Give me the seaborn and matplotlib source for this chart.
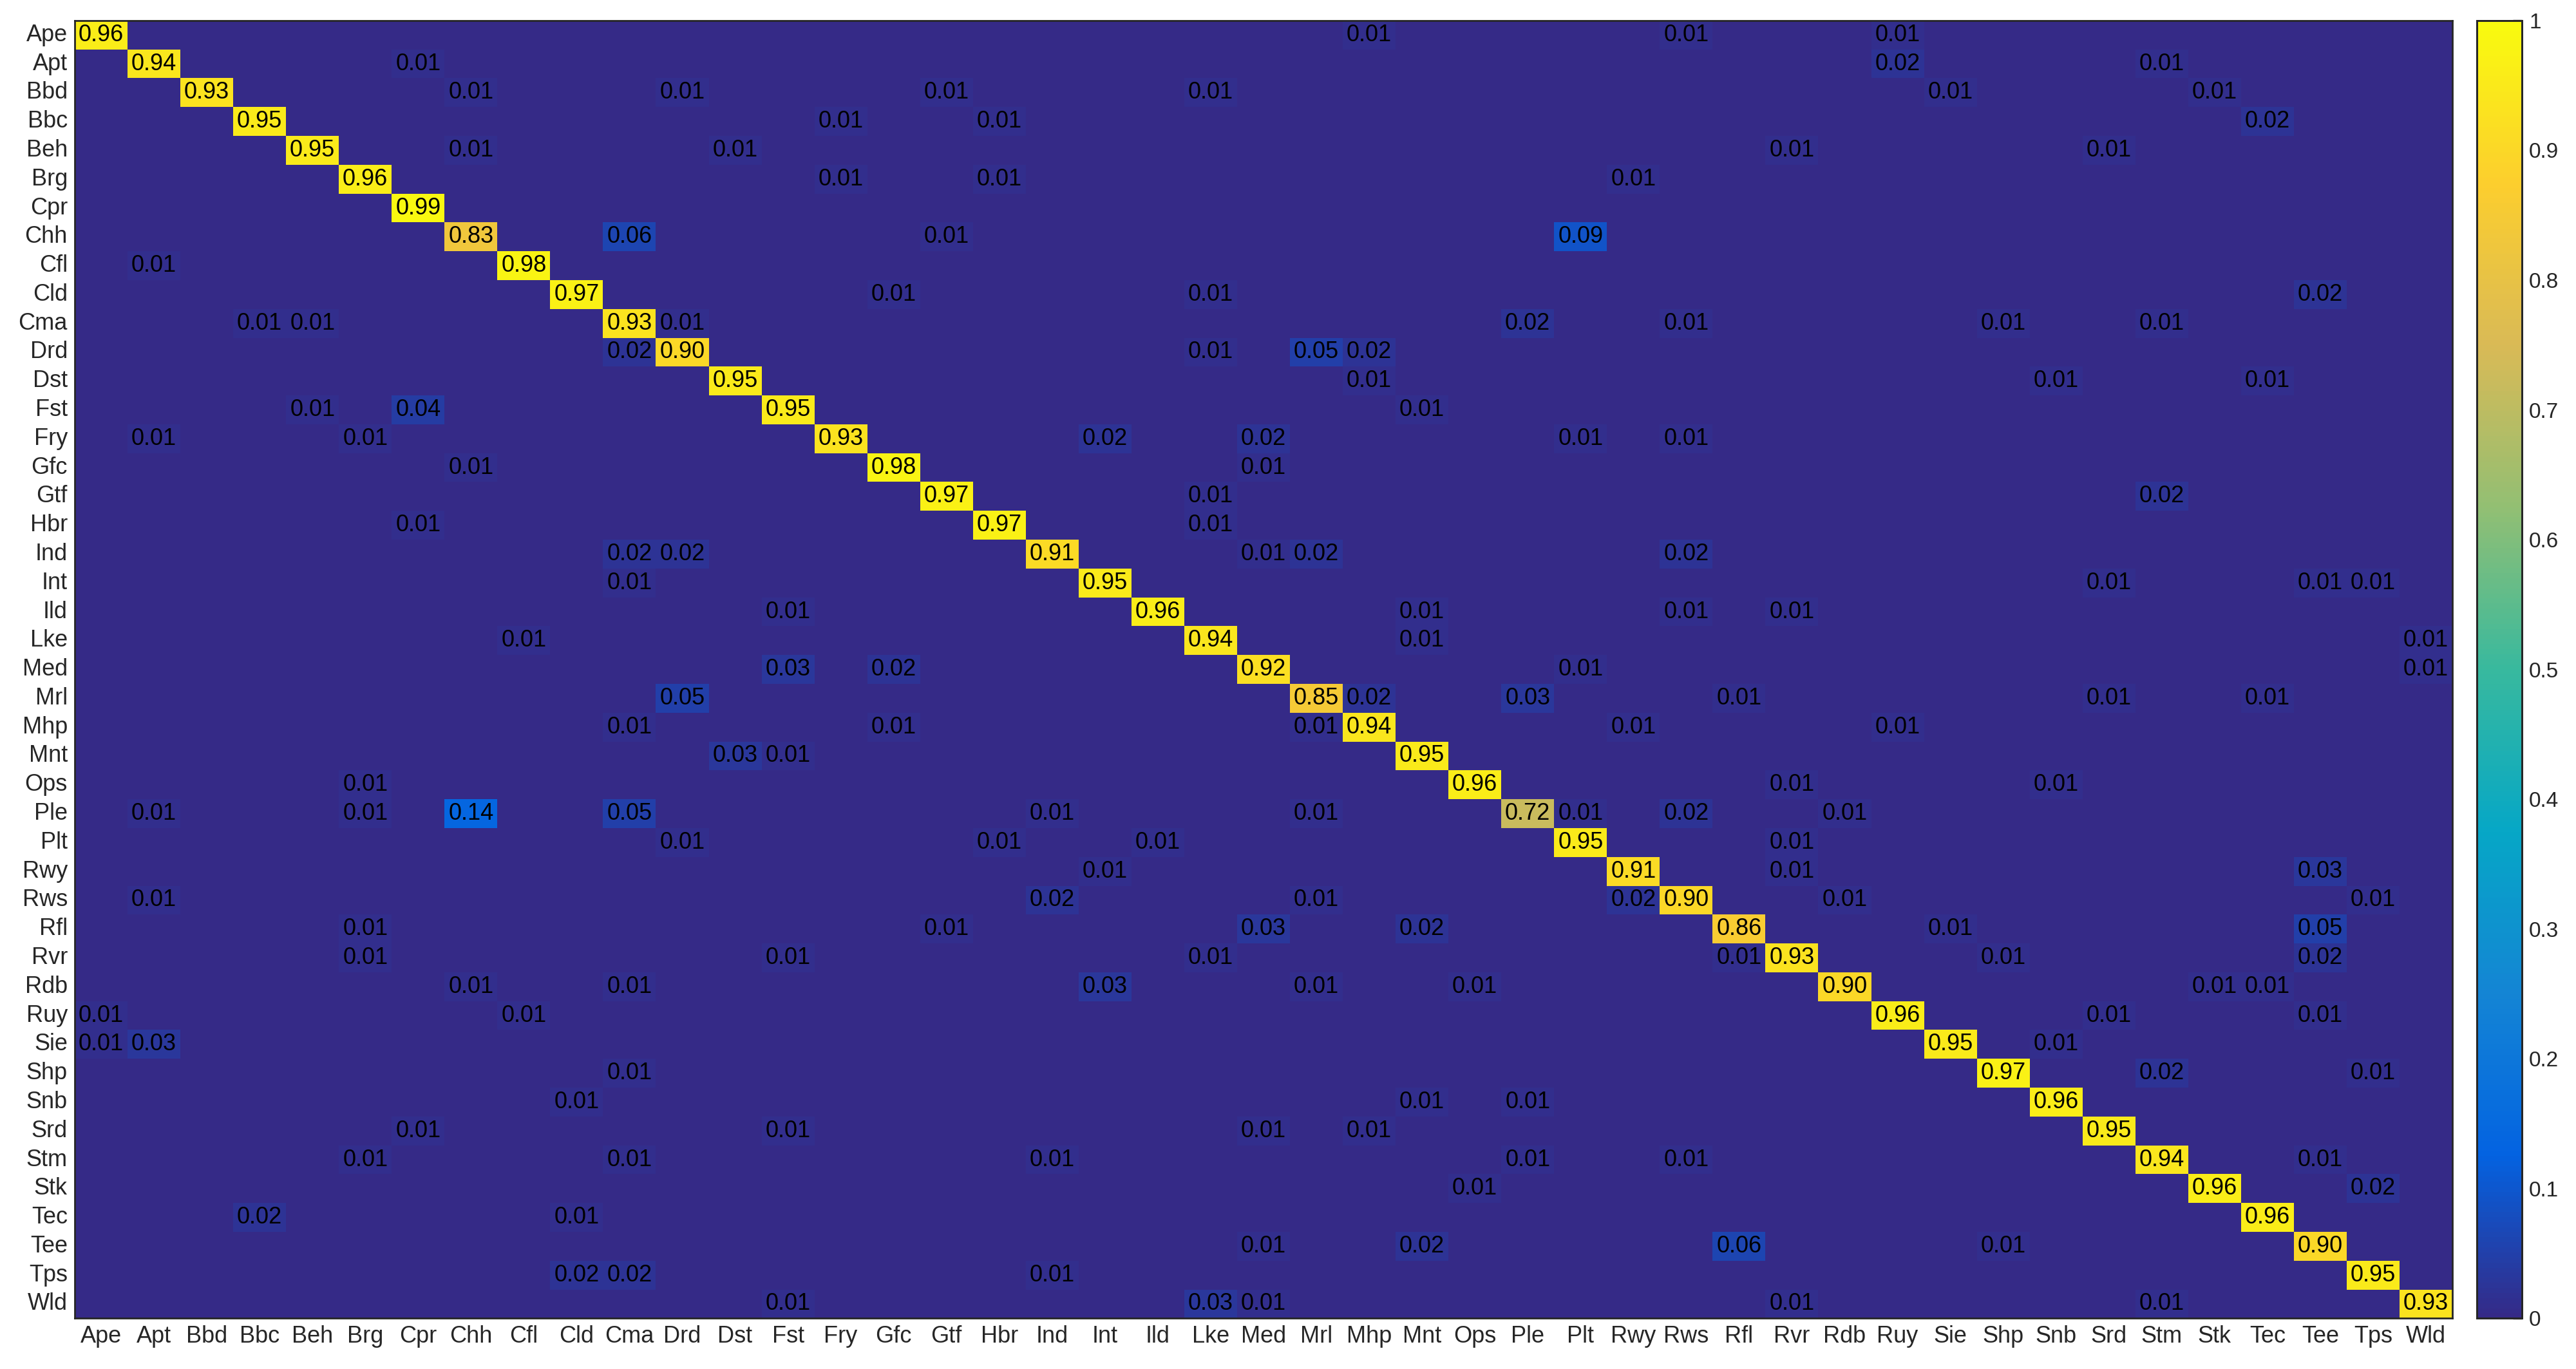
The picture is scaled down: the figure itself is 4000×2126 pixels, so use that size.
import numpy as np
import pandas as pd
import matplotlib
matplotlib.use("Agg")
import matplotlib.pyplot as plt
import seaborn as sns
from matplotlib.colors import LinearSegmentedColormap

# Class labels (rows = true, columns = predicted)
classes = ["Ape", "Apt", "Bbd", "Bbc", "Beh", "Brg", "Cpr", "Chh", "Cfl", "Cld",
           "Cma", "Drd", "Dst", "Fst", "Fry", "Gfc", "Gtf", "Hbr", "Ind", "Int",
           "Ild", "Lke", "Med", "Mrl", "Mhp", "Mnt", "Ops", "Ple", "Plt", "Rwy",
           "Rws", "Rfl", "Rvr", "Rdb", "Ruy", "Sie", "Shp", "Snb", "Srd", "Stm",
           "Stk", "Tec", "Tee", "Tps", "Wld"]

# Diagonal (per-class accuracy)
diag = [0.96, 0.94, 0.93, 0.95, 0.95, 0.96, 0.99, 0.83, 0.98, 0.97,
        0.93, 0.90, 0.95, 0.95, 0.93, 0.98, 0.97, 0.97, 0.91, 0.95,
        0.96, 0.94, 0.92, 0.85, 0.94, 0.95, 0.96, 0.72, 0.95, 0.91,
        0.90, 0.86, 0.93, 0.90, 0.96, 0.95, 0.97, 0.96, 0.95, 0.94,
        0.96, 0.96, 0.90, 0.95, 0.93]

# Off-diagonal confusions: true class -> {predicted class: rate}
off_diag = {
    "Ape": {"Mhp": 0.01, "Rws": 0.01, "Ruy": 0.01},
    "Apt": {"Cpr": 0.01, "Ruy": 0.02, "Stm": 0.01},
    "Bbd": {"Chh": 0.01, "Drd": 0.01, "Gtf": 0.01, "Lke": 0.01, "Sie": 0.01, "Stk": 0.01},
    "Bbc": {"Fry": 0.01, "Hbr": 0.01, "Tec": 0.02},
    "Beh": {"Chh": 0.01, "Dst": 0.01, "Rvr": 0.01, "Srd": 0.01},
    "Brg": {"Fry": 0.01, "Hbr": 0.01, "Rwy": 0.01},
    "Chh": {"Cma": 0.06, "Gtf": 0.01, "Plt": 0.09},
    "Cfl": {"Apt": 0.01},
    "Cld": {"Gfc": 0.01, "Lke": 0.01, "Tee": 0.02},
    "Cma": {"Bbc": 0.01, "Beh": 0.01, "Drd": 0.01, "Ple": 0.02, "Rws": 0.01, "Shp": 0.01, "Stm": 0.01},
    "Drd": {"Cma": 0.02, "Lke": 0.01, "Mrl": 0.05, "Mhp": 0.02},
    "Dst": {"Mhp": 0.01, "Snb": 0.01, "Tec": 0.01},
    "Fst": {"Beh": 0.01, "Cpr": 0.04, "Mnt": 0.01},
    "Fry": {"Apt": 0.01, "Brg": 0.01, "Int": 0.02, "Med": 0.02, "Plt": 0.01, "Rws": 0.01},
    "Gfc": {"Chh": 0.01, "Med": 0.01},
    "Gtf": {"Lke": 0.01, "Stm": 0.02},
    "Hbr": {"Cpr": 0.01, "Lke": 0.01},
    "Ind": {"Cma": 0.02, "Drd": 0.02, "Med": 0.01, "Mrl": 0.02, "Rws": 0.02},
    "Int": {"Cma": 0.01, "Srd": 0.01, "Tee": 0.01, "Tps": 0.01},
    "Ild": {"Fst": 0.01, "Mnt": 0.01, "Rws": 0.01, "Rvr": 0.01},
    "Lke": {"Cfl": 0.01, "Mnt": 0.01, "Wld": 0.01},
    "Med": {"Fst": 0.03, "Gfc": 0.02, "Plt": 0.01, "Wld": 0.01},
    "Mrl": {"Drd": 0.05, "Mhp": 0.02, "Ple": 0.03, "Rfl": 0.01, "Srd": 0.01, "Tec": 0.01},
    "Mhp": {"Cma": 0.01, "Gfc": 0.01, "Mrl": 0.01, "Rwy": 0.01, "Ruy": 0.01},
    "Mnt": {"Dst": 0.03, "Fst": 0.01},
    "Ops": {"Brg": 0.01, "Rvr": 0.01, "Snb": 0.01},
    "Ple": {"Apt": 0.01, "Brg": 0.01, "Chh": 0.14, "Cma": 0.05, "Ind": 0.01, "Mrl": 0.01,
            "Plt": 0.01, "Rws": 0.02, "Rdb": 0.01},
    "Plt": {"Drd": 0.01, "Hbr": 0.01, "Ild": 0.01, "Rvr": 0.01},
    "Rwy": {"Int": 0.01, "Rvr": 0.01, "Tee": 0.03},
    "Rws": {"Apt": 0.01, "Ind": 0.02, "Mrl": 0.01, "Rwy": 0.02, "Rdb": 0.01, "Tps": 0.01},
    "Rfl": {"Brg": 0.01, "Gtf": 0.01, "Med": 0.03, "Mnt": 0.02, "Sie": 0.01, "Tee": 0.05},
    "Rvr": {"Brg": 0.01, "Fst": 0.01, "Lke": 0.01, "Rfl": 0.01, "Shp": 0.01, "Tee": 0.02},
    "Rdb": {"Chh": 0.01, "Cma": 0.01, "Int": 0.03, "Mrl": 0.01, "Ops": 0.01, "Stk": 0.01, "Tec": 0.01},
    "Ruy": {"Ape": 0.01, "Cfl": 0.01, "Srd": 0.01, "Tee": 0.01},
    "Sie": {"Ape": 0.01, "Apt": 0.03, "Snb": 0.01},
    "Shp": {"Cma": 0.01, "Stm": 0.02, "Tps": 0.01},
    "Snb": {"Cld": 0.01, "Mnt": 0.01, "Ple": 0.01},
    "Srd": {"Cpr": 0.01, "Fst": 0.01, "Med": 0.01, "Mhp": 0.01},
    "Stm": {"Brg": 0.01, "Cma": 0.01, "Ind": 0.01, "Ple": 0.01, "Rws": 0.01, "Tee": 0.01},
    "Stk": {"Ops": 0.01, "Tps": 0.02},
    "Tec": {"Bbc": 0.02, "Cld": 0.01},
    "Tee": {"Med": 0.01, "Mnt": 0.02, "Rfl": 0.06, "Shp": 0.01},
    "Tps": {"Cld": 0.02, "Cma": 0.02, "Ind": 0.01},
    "Wld": {"Fst": 0.01, "Lke": 0.03, "Med": 0.01, "Rvr": 0.01, "Stm": 0.01},
}

cbar_ticks = [0, 0.1, 0.2, 0.3, 0.4, 0.5, 0.6, 0.7, 0.8, 0.9, 1]
cbar_labels = ["0", "0.1", "0.2", "0.3", "0.4", "0.5", "0.6", "0.7", "0.8", "0.9", "1"]

sns.set_theme(style="white")
plt.rcParams["font.family"] = ["Liberation Sans Narrow", "Liberation Sans", "DejaVu Sans"]

# MATLAB-like parula colormap
parula = LinearSegmentedColormap.from_list(
    "parula",
    ["#352a87", "#0363e1", "#1485d4", "#06a7c6", "#38b99e",
     "#92bf73", "#d9ba56", "#fcce2e", "#f9fb0e"])

# Build the matrix
cm = pd.DataFrame(0.0, index=classes, columns=classes)
for name, v in zip(classes, diag):
    cm.loc[name, name] = v
for true_cls, preds in off_diag.items():
    for pred_cls, v in preds.items():
        cm.loc[true_cls, pred_cls] = v

annot = cm.map(lambda v: f"{v:.2f}" if v > 0 else "")

fig = plt.figure(figsize=(20, 10.63), dpi=200)
ax = fig.add_axes([0.029, 0.037, 0.923, 0.948])
cax = fig.add_axes([0.9615, 0.037, 0.0175, 0.948])

sns.heatmap(cm, ax=ax, cbar_ax=cax, cmap=parula, vmin=0, vmax=1,
            annot=annot.values, fmt="",
            annot_kws={"color": "black", "fontsize": 13},
            linewidths=0)

ax.tick_params(axis="both", length=0, labelsize=13, colors="#262626", pad=4)
ax.set_xticklabels(classes, rotation=0)
ax.set_yticklabels(classes, rotation=0)
ax.set_xlabel("")
ax.set_ylabel("")
for s in ax.spines.values():
    s.set_visible(True)
    s.set_color("#262626")
    s.set_linewidth(1.0)

cax.set_yticks(cbar_ticks)
cax.set_yticklabels(cbar_labels)
cax.tick_params(axis="y", direction="in", length=5, width=1.2, labelsize=12,
                colors="#262626", pad=4)
for s in cax.spines.values():
    s.set_visible(True)
    s.set_color("#262626")
    s.set_linewidth(1.0)

fig.savefig("out.png", dpi=200)
plt.close(fig)
